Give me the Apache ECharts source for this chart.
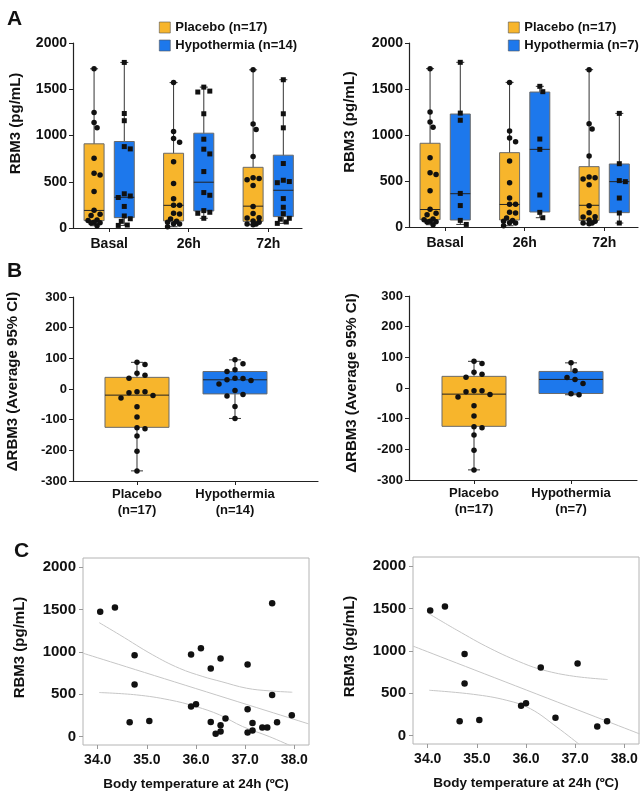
<!DOCTYPE html>
<html>
<head>
<meta charset="utf-8">
<script src="https://cdn.jsdelivr.net/npm/echarts@6/dist/echarts.min.js"></script>
<style>
html, body { margin: 0; padding: 0; background: #fff; }
#chart { width: 644px; height: 794px; }
</style>
</head>
<body>
<div id="chart"></div>
<script>
const FONT = 'Liberation Sans, Arial, Helvetica, sans-serif';

// ---- panel A: RBM3 by time point ----
const timepoints = ['Basal', '26h', '72h'];
// box stats: [min, Q1, median, Q3, max]
const placeboBoxA = [[25, 80, 190, 910, 1721], [14, 76, 245, 808, 1572], [36, 72, 236, 656, 1710]];
const hypoBox14 = [[28, 112, 332, 935, 1790], [105, 184, 495, 1025, 1523], [50, 123, 408, 787, 1603]];
const hypoBox7 = [[28, 76, 362, 1228, 1790], [101, 163, 844, 1467, 1529], [43, 156, 493, 685, 1235]];

const placeboPtsA = [
  [1721, 1250, 1141, 1083, 754, 591, 572, 395, 192, 149, 134, 87, 80, 62, 58, 54, 25],
  [1572, 1043, 967, 927, 717, 482, 315, 246, 246, 159, 152, 98, 72, 62, 47, 43, 14],
  [1710, 1123, 1065, 772, 543, 536, 522, 460, 232, 156, 112, 109, 76, 62, 43, 43, 36]
];
const hypoPts14 = [
  [1790, 1238, 1160, 880, 855, 370, 346, 330, 233, 130, 100, 72, 32, 28],
  [1523, 1480, 1470, 1235, 960, 852, 801, 610, 383, 354, 188, 170, 159, 105],
  [1603, 1235, 1083, 697, 516, 502, 490, 318, 224, 155, 105, 95, 65, 50]
];
const hypoPts7 = [
  [1790, 1238, 1160, 365, 233, 72, 28],
  [1529, 1471, 956, 844, 348, 159, 101],
  [1235, 688, 504, 493, 315, 152, 43]
];

// ---- panel B: delta RBM3 ----
const groupsB14 = ['Placebo\n(n=17)', 'Hypothermia\n(n=14)'];
const groupsB7 = ['Placebo\n(n=17)', 'Hypothermia\n(n=7)'];
const placeboBoxB = [-267, -125, -20, 38, 87];
const hypoBoxB14 = [-96, -16, 30, 57, 95];
const hypoBoxB7 = [-22, -18, 28, 54, 82];
const placeboDelta = [87, 80, 51, 45, 35, -9, -9, -12, -21, -29, -58, -91, -126, -130, -153, -203, -267];
const hypoDelta14 = [95, 82, 63, 57, 35, 34, 30, 28, 16, -5, -18, -23, -57, -96];
const hypoDelta7 = [82, 56, 34, 28, 15, -19, -22];

// ---- panel C: RBM3 vs body temperature ----
const tempTicks = [34, 35, 36, 37, 38];
const rbmTicks = [0, 500, 1000, 1500, 2000];
const tempAll = [34.05, 34.35, 34.75, 34.75, 34.65, 35.05, 35.9, 35.9, 36.0, 36.1, 36.3, 36.3, 36.5, 36.5,
  36.5, 36.4, 36.6, 37.05, 37.05, 37.05, 37.15, 37.15, 37.35, 37.45, 37.55, 37.55, 37.65, 37.95];
const rbmAll = [1476, 1524, 961, 614, 170, 185, 969, 354, 382, 1044, 803, 173, 921, 134,
  59, 32, 212, 850, 323, 47, 161, 71, 106, 106, 1575, 492, 170, 252];
const tempSub = [34.05, 34.35, 34.75, 34.75, 34.65, 35.05, 35.9, 36.0, 36.3, 36.6, 37.05, 37.45, 37.65];
const rbmSub = [1478, 1526, 963, 614, 168, 183, 353, 381, 803, 211, 851, 106, 168];

const fitLeft = [[33.7, 985], [38.29, 150]];
const ciUpLeft = [[34.03, 1346], [34.45, 1201], [35.12, 965], [35.66, 807], [36.14, 709], [36.51, 650], [37.03, 571], [37.49, 540], [37.96, 524]];
const ciLoLeft = [[34.03, 520], [34.79, 492], [35.46, 433], [36.0, 354], [36.48, 256], [36.95, 118], [37.49, 0], [37.96, -118]];
const fitRight = [[33.7, 1057], [38.31, 20]];
const ciUpRight = [[34.03, 1438], [34.59, 1247], [35.27, 1030], [35.95, 852], [36.36, 772], [36.97, 701], [37.66, 662]];
const ciLoRight = [[34.03, 535], [34.93, 487], [35.61, 416], [36.09, 317], [36.63, 99], [37.09, -107]];

const PLACEBO = '#F7B52C';
const HYPO = '#1D78EC';
const INK = '#111';

// beeswarm-like horizontal spread (pixels), kept within +-maxDx
function swarm(values, pxPerUnit, d, maxDx) {
  const placed = [];
  const offs = values.map(() => 0);
  const order = values.map((v, i) => i).sort((a, b) => values[b] - values[a]);
  const cands = [0];
  for (let k = 1; k * d * 0.5 <= maxDx; k++) cands.push(k * d * 0.5, -k * d * 0.5);
  order.forEach(i => {
    const y = values[i] * pxPerUnit;
    let best = 0, bestGap = -1;
    for (const dx of cands) {
      const gap = placed.reduce((m, p) => Math.min(m, Math.hypot(p[0] - dx, p[1] - y)), Infinity);
      if (gap >= d) { best = dx; break; }
      if (gap > bestGap) { bestGap = gap; best = dx; }
    }
    offs[i] = best;
    placed.push([best, y]);
  });
  return offs;
}

function boxSeries(name, idx, stats, off, fill, halfW, capW) {
  return {
    name: name,
    type: 'custom',
    xAxisIndex: idx,
    yAxisIndex: idx,
    itemStyle: { color: fill },
    encode: { x: 0, y: [1, 2, 3, 4, 5] },
    data: stats.map((s, i) => [i + 1 + off].concat(s)),
    z: 2,
    silent: true,
    renderItem: function (params, api) {
      const x = api.value(0);
      const p = [1, 2, 3, 4, 5].map(k => api.coord([x, api.value(k)]));
      const cx = p[0][0];
      const ls = { stroke: '#333', lineWidth: 1 };
      return {
        type: 'group',
        children: [
          { type: 'line', shape: { x1: cx, y1: p[4][1], x2: cx, y2: p[0][1] }, style: ls },
          { type: 'line', shape: { x1: cx - capW, y1: p[4][1], x2: cx + capW, y2: p[4][1] }, style: ls },
          { type: 'line', shape: { x1: cx - capW, y1: p[0][1], x2: cx + capW, y2: p[0][1] }, style: ls },
          { type: 'rect', shape: { x: cx - halfW, y: p[3][1], width: halfW * 2, height: p[1][1] - p[3][1] },
            style: { fill: fill, stroke: '#6a6a6a', lineWidth: 1 } },
          { type: 'line', shape: { x1: cx - halfW, y1: p[2][1], x2: cx + halfW, y2: p[2][1] },
            style: { stroke: '#222', lineWidth: 1 } }
        ]
      };
    }
  };
}

function dotSeries(idx, lists, off, symbol, size, pxPerUnit, d, maxDx) {
  const data = [];
  lists.forEach((vals, i) => {
    const dx = swarm(vals, pxPerUnit, d, maxDx);
    vals.forEach((v, j) => data.push({ value: [i + 1 + off, v], symbolOffset: [dx[j], 0] }));
  });
  return {
    type: 'scatter', xAxisIndex: idx, yAxisIndex: idx, symbol: symbol, symbolSize: size,
    itemStyle: { color: INK, opacity: 1 }, data: data, z: 5, silent: true
  };
}

const txt = (size) => ({ color: INK, fontWeight: 'bold', fontSize: size, fontFamily: FONT });
const darkLine = { onZero: false, lineStyle: { color: '#222', width: 1.2 } };
const plain = v => String(v);

function catXAxis(gridIndex, min, max, labels, size, margin) {
  const vals = labels.map((l, i) => i + 1);
  return {
    gridIndex: gridIndex, type: 'value', min: min, max: max,
    axisLine: darkLine,
    axisTick: { show: true, customValues: vals, length: 4, lineStyle: { color: '#222' } },
    axisLabel: Object.assign({ customValues: vals, margin: margin, lineHeight: 16,
      formatter: v => labels[Math.round(v) - 1] }, txt(size)),
    splitLine: { show: false }
  };
}

function valYAxis(gridIndex, min, max, interval, name, size, gap, lift) {
  return {
    gridIndex: gridIndex, type: 'value', min: min, max: max, interval: interval,
    name: name, nameLocation: 'middle', nameGap: gap,
    nameTextStyle: Object.assign({ padding: [0, 0, 0, lift] }, txt(15)),
    axisLine: { show: true, onZero: false, lineStyle: { color: '#222', width: 1.2 } },
    axisTick: { show: true, length: 4, lineStyle: { color: '#222' } },
    axisLabel: Object.assign({ margin: 6, formatter: plain }, txt(size)),
    splitLine: { show: false }
  };
}

function tempXAxis(gridIndex) {
  return {
    gridIndex: gridIndex, type: 'value', min: 33.7, max: 38.3,
    name: 'Body temperature at 24h (\u00baC)', nameLocation: 'middle', nameGap: 32,
    nameTextStyle: txt(13.5),
    axisLine: { show: false, onZero: false },
    axisTick: { show: true, customValues: tempTicks, length: 4, lineStyle: { color: '#999' } },
    axisLabel: Object.assign({ customValues: tempTicks, margin: 8, formatter: v => v.toFixed(1) }, txt(14)),
    splitLine: { show: false }
  };
}

function rbmYAxis(gridIndex) {
  return {
    gridIndex: gridIndex, type: 'value', min: -100, max: 2110,
    name: 'RBM3 (pg/mL)', nameLocation: 'middle', nameGap: 56,
    nameTextStyle: Object.assign({ padding: [0, 0, 0, 8] }, txt(15)),
    axisLine: { show: false, onZero: false },
    axisTick: { show: true, customValues: rbmTicks, length: 4, lineStyle: { color: '#999' } },
    axisLabel: Object.assign({ customValues: rbmTicks, margin: 7, formatter: plain }, txt(15)),
    splitLine: { show: false }
  };
}

function ciLine(idx, pts) {
  return {
    type: 'line', xAxisIndex: idx, yAxisIndex: idx, data: pts, smooth: 0.4,
    symbol: 'none', silent: true, lineStyle: { color: '#c6c6c6', width: 1 }, z: 1
  };
}
function tempScatter(idx, xs, ys) {
  return {
    type: 'scatter', xAxisIndex: idx, yAxisIndex: idx, symbolSize: 6.5, silent: true,
    itemStyle: { color: INK, opacity: 1 }, data: xs.map((t, i) => [t, ys[i]]), z: 5
  };
}

const OFF = 0.19;
const pxA = 185 / 2000;
const pxB = 184 / 600;

const legendBase = {
  orient: 'vertical', itemWidth: 11, itemHeight: 11, itemGap: 5, padding: 0, icon: 'rect',
  selectedMode: false, textStyle: txt(13),
  itemStyle: { borderColor: '#555', borderWidth: 0.6 }
};

const option = {
  animation: false,
  textStyle: { fontFamily: FONT },
  graphic: [
    { type: 'text', left: 7, top: 9, style: { text: 'A', font: 'bold 21px ' + FONT, fill: INK } },
    { type: 'text', left: 7, top: 261, style: { text: 'B', font: 'bold 21px ' + FONT, fill: INK } },
    { type: 'text', left: 14, top: 541, style: { text: 'C', font: 'bold 21px ' + FONT, fill: INK } }
  ],
  legend: [
    Object.assign({ data: ['Placebo (n=17)', 'Hypothermia (n=14)'], left: 159, top: 21 }, legendBase),
    Object.assign({ data: ['Placebo (n=17)', 'Hypothermia (n=7)'], left: 508, top: 21 }, legendBase)
  ],
  grid: [
    { left: 73, top: 43, width: 229, height: 185, outerBoundsMode: 'none' },
    { left: 409, top: 43, width: 229, height: 184, outerBoundsMode: 'none' },
    { left: 73, top: 297, width: 245, height: 184, outerBoundsMode: 'none' },
    { left: 409, top: 296, width: 228, height: 184, outerBoundsMode: 'none' },
    { left: 83, top: 558, width: 226, height: 187, show: true, borderColor: '#b4b4b4', borderWidth: 1, outerBoundsMode: 'none' },
    { left: 413, top: 557, width: 226, height: 187, show: true, borderColor: '#b4b4b4', borderWidth: 1, outerBoundsMode: 'none' }
  ],
  xAxis: [
    catXAxis(0, 0.545, 3.425, timepoints, 14, 8),
    catXAxis(1, 0.545, 3.425, timepoints, 14, 8),
    catXAxis(2, 0.347, 2.847, groupsB14, 13, 5),
    catXAxis(3, 0.33, 2.68, groupsB7, 13, 5),
    tempXAxis(4),
    tempXAxis(5)
  ],
  yAxis: [
    valYAxis(0, 0, 2000, 500, 'RBM3 (pg/mL)', 14, 50, 24),
    valYAxis(1, 0, 2000, 500, 'RBM3 (pg/mL)', 14, 52, 26),
    valYAxis(2, -300, 300, 100, '\u0394RBM3 (Average 95% CI)', 13, 53, 15),
    valYAxis(3, -300, 300, 100, '\u0394RBM3 (Average 95% CI)', 13, 50, 10),
    rbmYAxis(4),
    rbmYAxis(5)
  ],
  series: [
    boxSeries('Placebo (n=17)', 0, placeboBoxA, -OFF, PLACEBO, 10, 4),
    boxSeries('Hypothermia (n=14)', 0, hypoBox14, OFF, HYPO, 10, 4),
    dotSeries(0, placeboPtsA, -OFF, 'circle', 5.5, pxA, 6, 8),
    dotSeries(0, hypoPts14, OFF, 'rect', 5, pxA, 6, 8),

    boxSeries('Placebo (n=17)', 1, placeboBoxA, -OFF, PLACEBO, 10, 4),
    boxSeries('Hypothermia (n=7)', 1, hypoBox7, OFF, HYPO, 10, 4),
    dotSeries(1, placeboPtsA, -OFF, 'circle', 5.5, pxA, 6, 8),
    dotSeries(1, hypoPts7, OFF, 'rect', 5, pxA, 6, 8),

    boxSeries('Placebo B', 2, [placeboBoxB], 0, PLACEBO, 32, 6),
    boxSeries('Hypothermia B14', 2, [hypoBoxB14], 1, HYPO, 32, 6),
    dotSeries(2, [placeboDelta, hypoDelta14], 0, 'circle', 5.5, pxB, 8, 24),

    boxSeries('Placebo B', 3, [placeboBoxB], 0, PLACEBO, 32, 6),
    boxSeries('Hypothermia B7', 3, [hypoBoxB7], 1, HYPO, 32, 6),
    dotSeries(3, [placeboDelta, hypoDelta7], 0, 'circle', 5.5, pxB, 8, 24),

    ciLine(4, ciUpLeft), ciLine(4, fitLeft), ciLine(4, ciLoLeft),
    tempScatter(4, tempAll, rbmAll),
    ciLine(5, ciUpRight), ciLine(5, fitRight), ciLine(5, ciLoRight),
    tempScatter(5, tempSub, rbmSub)
  ]
};

const chart = echarts.init(document.getElementById('chart'), null, { renderer: 'canvas' });
chart.setOption(option);
window.addEventListener('resize', () => chart.resize());
</script>
</body>
</html>
